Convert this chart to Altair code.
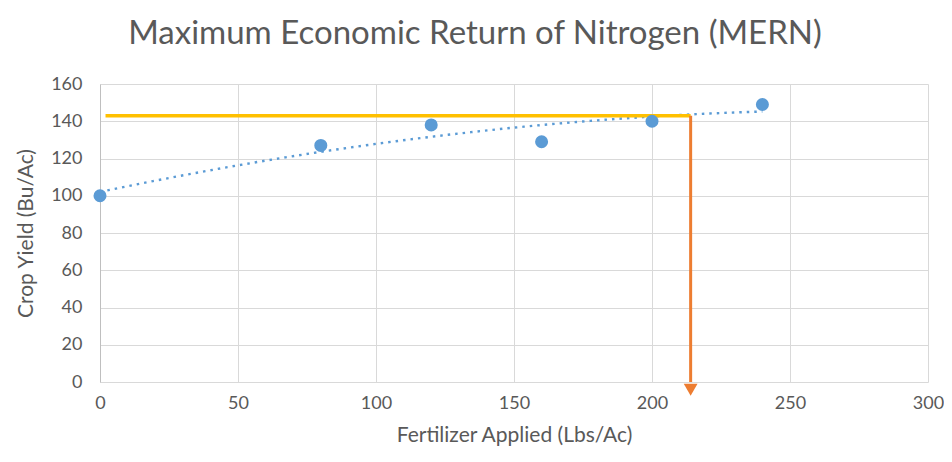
import altair as alt
import pandas as pd

# Data
fertilizer = [0, 80, 120, 160, 200, 240]
crop_yield = [100, 127, 138, 129, 140, 149]
mern_x = 214
mern_y = 143
yellow_start = 2
x_ticks = [0, 50, 100, 150, 200, 250, 300]
y_ticks = [0, 20, 40, 60, 80, 100, 120, 140, 160]

pts = pd.DataFrame({"x": fertilizer, "y": crop_yield})
hline = pd.DataFrame({"x": [yellow_start], "x2": [mern_x], "y": [mern_y]})
vline = pd.DataFrame({"x": [mern_x], "y": [mern_y], "y2": [0]})
head = pd.DataFrame({"x": [mern_x], "y": [-4.2]})

FONT = "Lato"
GREY = "#595959"

xscale = alt.Scale(domain=[0, 300], nice=False, zero=False)
yscale = alt.Scale(domain=[0, 160], nice=False, zero=False)

xaxis = alt.Axis(values=x_ticks, title="Fertilizer Applied (Lbs/Ac)", domain=False,
                 labelPadding=12, titlePadding=12, labelFlush=False)
yaxis = alt.Axis(values=y_ticks, title="Crop Yield (Bu/Ac)", domain=True,
                 domainColor="#bfbfbf", labelPadding=18, titlePadding=14)

X = alt.X("x:Q", scale=xscale, axis=xaxis)
Y = alt.Y("y:Q", scale=yscale, axis=yaxis)

base = alt.Chart(pts)

trend = base.transform_regression("x", "y", method="poly", order=2).mark_line(
    color="#5B9BD5", strokeWidth=2.4, strokeDash=[2.5, 5]
).encode(x=X, y=Y)

points = base.mark_circle(size=170, color="#5B9BD5", opacity=1).encode(x=X, y=Y)

yellow = alt.Chart(hline).mark_rule(color="#FFC000", strokeWidth=3.5).encode(
    x=X, x2="x2:Q", y=Y
)
orange = alt.Chart(vline).mark_rule(color="#ED7D31", strokeWidth=3).encode(
    x=X, y=Y, y2="y2:Q"
)
arrow = alt.Chart(head).mark_point(shape="triangle-down", filled=True, size=190,
                                   color="#ED7D31", opacity=1).encode(x=X, y=Y)

chart = alt.layer(trend, yellow, orange, arrow, points).properties(
    width=828, height=298,
    autosize=alt.AutoSizeParams(type="none"),
    padding={"left": 92, "top": 76, "right": 16, "bottom": 72},
    title=alt.TitleParams("Maximum Economic Return of Nitrogen (MERN)", fontSize=33,
                          font=FONT, fontWeight="normal", color=GREY, anchor="middle",
                          dx=-39, offset=24),
).configure_view(stroke=None).configure_axis(
    grid=True, gridColor="#d9d9d9", ticks=False, labelOverlap=False,
    labelFontSize=18, labelColor=GREY, labelFont=FONT, labelFontWeight="normal",
    titleFontSize=21, titleColor=GREY, titleFont=FONT, titleFontWeight="normal",
)

chart.save("out.html", embed_options={"renderer": "svg", "actions": False})
